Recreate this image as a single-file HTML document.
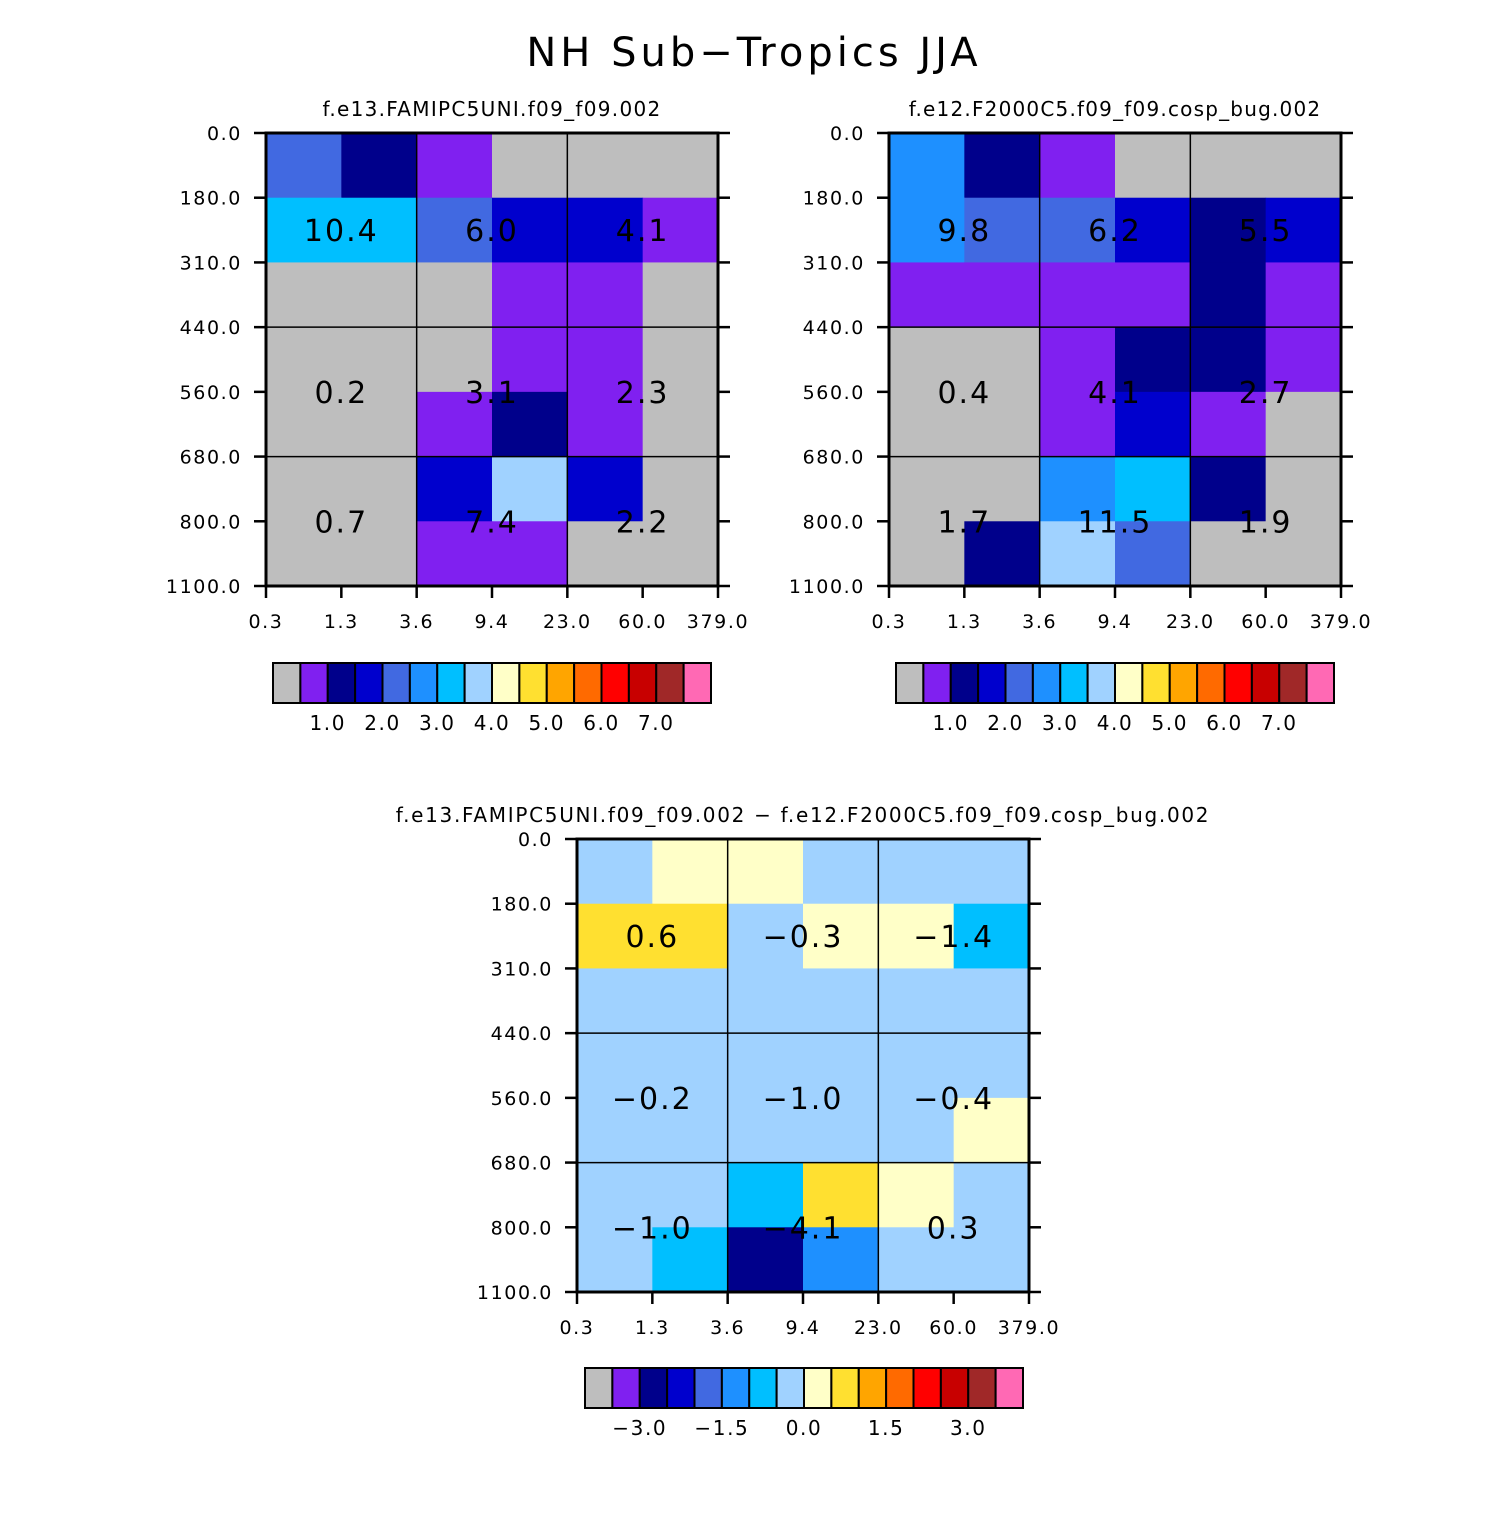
<!DOCTYPE html>
<html><head><meta charset="utf-8"><style>
body{margin:0;background:#fff}
svg text{font-family:"DejaVu Sans","Liberation Sans",sans-serif;fill:#000}
</style></head><body>
<svg id="s" width="1510" height="1510" viewBox="0 0 1510 1510">
<text x="754" y="66" font-size="40" letter-spacing="4" text-anchor="middle">NH Sub−Tropics JJA</text>
</svg>
<script>
const palette=["#BEBEBE","#8020F0","#00008B","#0000CD","#4169E1","#1E90FF","#00BFFF","#A0D2FF","#FFFFC8","#FFE030","#FFA500","#FF6A00","#FF0000","#C80000","#A02828","#FF69B4"];
const xTicks=["0.3","1.3","3.6","9.4","23.0","60.0","379.0"];
const yTicks=["0.0","180.0","310.0","440.0","560.0","680.0","800.0","1100.0"];
const grid1=[[4,2,1,0,0,0],[6,6,4,3,3,1],[0,0,0,1,1,0],[0,0,0,1,1,0],[0,0,1,2,1,0],[0,0,3,7,3,0],[0,0,1,1,0,0]];
const grid2=[[5,2,1,0,0,0],[5,4,4,3,2,3],[1,1,1,1,2,1],[0,0,1,2,2,1],[0,0,1,3,1,0],[0,0,5,6,2,0],[0,2,7,4,0,0]];
const grid3=[[7,8,8,7,7,7],[9,9,7,8,8,6],[7,7,7,7,7,7],[7,7,7,7,7,7],[7,7,7,7,7,8],[7,7,6,9,8,7],[7,6,2,5,7,7]];
const vals1=["10.4","6.0","4.1","0.2","3.1","2.3","0.7","7.4","2.2"];
const vals2=["9.8","6.2","5.5","0.4","4.1","2.7","1.7","11.5","1.9"];
const vals3=["0.6","−0.3","−1.4","−0.2","−1.0","−0.4","−1.0","−4.1","0.3"];
const cbLabels12=["1.0","2.0","3.0","4.0","5.0","6.0","7.0"];
const cbPos12=[2,4,6,8,10,12,14];
const cbLabels3=["−3.0","−1.5","0.0","1.5","3.0"];
const cbPos3=[2,5,8,11,14];

const S=document.getElementById('s');
const NS="http://www.w3.org/2000/svg";
function mk(tag,at,parent){const e=document.createElementNS(NS,tag);for(const k in at)e.setAttribute(k,at[k]);(parent||S).appendChild(e);return e;}

function panel(x0,y0,title,grid,vals,name,tsp){
  const W=452,H=453,cols=6,rows=7;
  const g=mk('g',{});
  
  
  const xs=i=>x0+i*W/cols, ys=j=>y0+j*H/rows;
  grid.forEach((row,j)=>row.forEach((c,i)=>{
    const r=mk('rect',{x:xs(i),y:ys(j),width:W/cols+0.5,height:H/rows+0.5,fill:palette[c]},g);
    
    
  }));
  [2,4].forEach(i=>mk('line',{x1:xs(i),x2:xs(i),y1:y0,y2:y0+H,stroke:'#000','stroke-width':1.5},g));
  [3,5].forEach(j=>mk('line',{x1:x0,x2:x0+W,y1:ys(j),y2:ys(j),stroke:'#000','stroke-width':1.5},g));
  const cx=[1,3,5],cy=[1.5,4,6];
  vals.forEach((v,k)=>{
    const r=cy[Math.floor(k/3)];
    const t=mk('text',{x:xs(cx[k%3]),y:(r===1.5?(ys(1)+ys(2))/2:ys(r))+11,'font-size':30,'letter-spacing':2,'text-anchor':'middle'},g);
    t.textContent=v;
    
    
  });
  mk('rect',{x:x0,y:y0,width:W,height:H,fill:'none',stroke:'#000','stroke-width':3},g);
  yTicks.forEach((l,j)=>{
    mk('line',{x1:x0-12,x2:x0,y1:ys(j),y2:ys(j),stroke:'#000','stroke-width':2.5},g);
    mk('line',{x1:x0+W,x2:x0+W+12,y1:ys(j),y2:ys(j),stroke:'#000','stroke-width':2.5},g);
    const t=mk('text',{x:x0-24,y:ys(j)+7,'font-size':19,'letter-spacing':1.6,'text-anchor':'end'},g);t.textContent=l;
    
    
  });
  xTicks.forEach((l,i)=>{
    mk('line',{x1:xs(i),x2:xs(i),y1:y0+H,y2:y0+H+12,stroke:'#000','stroke-width':2.5},g);
    const t=mk('text',{x:xs(i),y:y0+H+42,'font-size':19,'letter-spacing':1.6,'text-anchor':'middle'},g);t.textContent=l;
    
    
  });
  const t=mk('text',{x:x0+W/2,y:y0-17,'font-size':20,'letter-spacing':tsp,'text-anchor':'middle'},g);t.textContent=title;
  
  
}
function colorbar(x0,y0,labels,pos,name){
  const bw=438/16,g=mk('g',{});
  
  
  palette.forEach((c,i)=>mk('rect',{x:x0+i*bw,y:y0,width:bw,height:40,fill:c,stroke:'#000','stroke-width':2},g));
  labels.forEach((l,k)=>{const t=mk('text',{x:x0+pos[k]*bw,y:y0+67,'font-size':20,'letter-spacing':1.6,'text-anchor':'middle'},g);t.textContent=l;
    
    });
}
panel(266,133,"f.e13.FAMIPC5UNI.f09_f09.002",grid1,vals1,'panel-model-1',1.3);
panel(889,133,"f.e12.F2000C5.f09_f09.cosp_bug.002",grid2,vals2,'panel-model-2',1.2);
panel(577,839,"f.e13.FAMIPC5UNI.f09_f09.002 − f.e12.F2000C5.f09_f09.cosp_bug.002",grid3,vals3,'panel-difference',1.7);
colorbar(273,663,cbLabels12,cbPos12,'colorbar-1');
colorbar(896,663,cbLabels12,cbPos12,'colorbar-2');
colorbar(585,1368,cbLabels3,cbPos3,'colorbar-difference');
</script>
</body></html>
